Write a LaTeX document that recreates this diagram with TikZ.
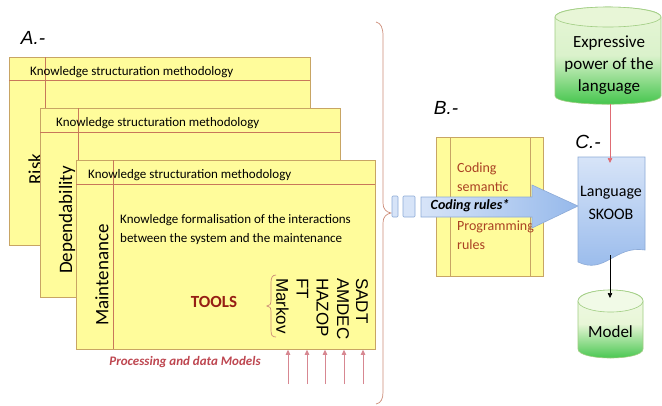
\documentclass[tikz,border=0pt]{standalone}
\usepackage{fontspec}
\setmainfont{Carlito}
\newfontfamily\arialf{Liberation Sans}
\usetikzlibrary{arrows.meta}
\definecolor{yel}{RGB}{255,252,155}
\definecolor{frameb}{RGB}{200,165,100}
\definecolor{innerl}{RGB}{200,120,90}
\definecolor{toolred}{RGB}{150,30,20}
\definecolor{pinkarr}{RGB}{215,135,145}
\definecolor{proctext}{RGB}{190,70,80}
\definecolor{bracec}{RGB}{205,140,120}
\definecolor{btext}{RGB}{170,65,35}
\definecolor{bluel}{RGB}{215,228,248}
\definecolor{blued}{RGB}{150,185,235}
\definecolor{blueline}{RGB}{140,170,215}
\definecolor{greenp}{RGB}{232,246,215}
\definecolor{greend}{RGB}{60,195,70}
\definecolor{greenline}{RGB}{160,205,130}
\begin{document}
\begin{tikzpicture}[x=1pt,y=-1pt,
  frame/.style={draw=frameb,fill=yel,line width=0.8pt,inner sep=0pt,anchor=north west},
  innerline/.style={draw=innerl,line width=0.6pt},
  hdr/.style={anchor=west,inner sep=0pt,font=\fontsize{13}{15}\selectfont},
  side/.style={rotate=90,inner sep=0pt,font=\fontsize{19}{21}\selectfont},
  tool/.style={rotate=-90,anchor=west,inner sep=0pt,font=\arialf\fontsize{17}{19}\selectfont},
  toolarrow/.style={draw=pinkarr,line width=0.8pt,-{Triangle[length=5pt,width=4.5pt]}},
  lbl/.style={inner sep=0pt,font=\arialf\itshape\fontsize{19}{21}\selectfont},
  btxt/.style={anchor=west,align=left,inner sep=0pt,text=btext,font=\fontsize{14}{19}\selectfont},
  cyltxt/.style={align=center,inner sep=0pt,font=\fontsize{17}{22}\selectfont}
]
\useasboundingbox (0,0) rectangle (662,405);
\fill[white] (0,0) rectangle (662,405);

% labels
\node[lbl] (la) at (33,38) {A.-};
\node[lbl] (lb) at (446,108) {B.-};
\node[lbl] (lc) at (588,142) {C.-};

% frame 1
\node[frame,minimum width=301pt,minimum height=188pt] (f1) at (9,57) {};
\draw[innerline] (9,80) -- (310,80);
\draw[innerline] (45,57) -- (45,245);
\node[hdr] (h1) at (30,72) {Knowledge structuration methodology};
\node[side] (risk) at (35,169) {Risk};

% frame 2
\node[frame,minimum width=300pt,minimum height=189pt] (f2) at (40,108) {};
\draw[innerline] (40,132) -- (340,132);
\draw[innerline] (78,108) -- (78,297);
\node[hdr] (h2) at (56,123) {Knowledge structuration methodology};
\node[side] (dep) at (67,220) {Dependability};

% frame 3
\node[frame,minimum width=299pt,minimum height=189pt] (f3) at (76,160) {};
\draw[innerline] (76,184) -- (375,184);
\draw[innerline] (113,160) -- (113,349);
\node[hdr] (h3) at (88,175) {Knowledge structuration methodology};
\node[side] (maint) at (102,275) {Maintenance};
\node[anchor=west,align=left,inner sep=0pt,font=\fontsize{13}{19}\selectfont] (body) at (120,229.5)
  {Knowledge formalisation of the interactions\\between the system and the maintenance};
\node[inner sep=0pt,text=toolred,font=\bfseries\fontsize{17}{19}\selectfont] (tools) at (214,302) {TOOLS};

% tool names
\node[tool] (markov) at (282.5,278) {Markov};
\node[tool] (ft) at (302.5,278) {FT};
\node[tool] (hazop) at (322.5,278) {HAZOP};
\node[tool] (amdec) at (343,278) {AMDEC};
\node[tool] (sadt) at (362,278) {SADT};

% small brace
\draw[bracec,line width=0.7pt] (276,275) .. controls (272,275) and (271,278) .. (271,283)
  -- (271,300) .. controls (271,304) and (270,306) .. (267,306)
  .. controls (270,306) and (271,308) .. (271,312) -- (271,330)
  .. controls (271,335) and (272,337) .. (276,337);

% tool arrows
\foreach \xx/\nm in {288/ta,307/tb,325/tc,344/td,363/te}{
  \coordinate (\nm) at (\xx,384);
  \draw[toolarrow] (\nm) -- (\nm |- f3.south);
}
\node[inner sep=0pt,text=proctext,font=\bfseries\itshape\fontsize{13}{15}\selectfont] (proc) at (185,362) {Processing and data Models};

% big brace
\draw[bracec,line width=0.7pt] (376,22) .. controls (381,23) and (383,28) .. (383,36)
  -- (383,203) .. controls (383,209) and (386,212) .. (391,213)
  .. controls (386,214) and (383,217) .. (383,223)
  -- (383,392) .. controls (383,399) and (381,403) .. (376,404);

% B box
\node[frame,minimum width=107pt,minimum height=139pt] (bbox) at (436,137) {};
\draw[innerline,draw=frameb] (450,137) -- (450,276);
\draw[innerline,draw=frameb] (530,137) -- (530,276);
\node[btxt] (cs) at (457,177.5) {Coding\\semantic};
\node[btxt] (pr) at (457,235) {Programming\\rules};

% small rectangles and big arrow
\draw[blueline,fill=bluel,rounded corners=1pt,line width=0.6pt] (392,196) rectangle (398,217);
\draw[blueline,fill=bluel,rounded corners=1pt,line width=0.6pt] (403,196) rectangle (415,217);
\draw[blueline,line width=0.6pt,left color=bluel,right color=blued]
  (421,197) -- (532,197) -- (532,185) -- (578,206) -- (532,228) -- (532,217) -- (421,217) -- cycle;
\node[inner sep=0pt,font=\bfseries\itshape\fontsize{14}{16}\selectfont] (cr) at (470,206) {Coding rules*};

% Expressive cylinder
\shade[top color=greenp,bottom color=greend,middle color=greenp!92!greend,draw=greenline,line width=0.6pt]
  (555,17) -- (555,96) .. controls (555,107) and (661,107) .. (661,96)
  -- (661,17) .. controls (661,3.7) and (555,3.7) .. cycle;
\draw[greenline,fill=greenp,line width=0.6pt] (608,17) ellipse [x radius=53, y radius=10];
\node[cyltxt] (expr) at (609,65) {Expressive\\power of the\\language};
\coordinate (exprbot) at (610,104);

% Language box
\shade[top color=bluel,bottom color=blued,draw=blueline,line width=0.6pt]
  (578,157) -- (645,157) -- (645,250) .. controls (615,245) and (605,275) .. (578,262) -- cycle;
\node[align=center,inner sep=0pt,font=\fontsize{16}{23}\selectfont] (lang) at (611,203) {Language\\SKOOB};
\coordinate (langin) at (610,163);
\coordinate (langout) at (610,255);
\draw[draw=pinkarr!80!red,line width=0.7pt,-{Triangle[length=5pt,width=4.5pt]}] (exprbot) -- (langin);

% Model cylinder
\shade[top color=greenp!60!white,bottom color=greend,middle color=greenp,draw=greenline,line width=0.6pt]
  (578,301) -- (578,349) .. controls (578,361) and (643,361) .. (643,349)
  -- (643,301) .. controls (643,286.4) and (578,286.4) .. cycle;
\draw[greenline,fill=greenp!60!white,line width=0.6pt] (610.5,301) ellipse [x radius=32.5, y radius=11];
\node[cyltxt] (model) at (610.5,332) {Model};
\coordinate (modeltop) at (610,298);
\draw[black,line width=0.6pt,-{Triangle[length=5pt,width=4.5pt]}] (langout) -- (modeltop);
\end{tikzpicture}
\end{document}
